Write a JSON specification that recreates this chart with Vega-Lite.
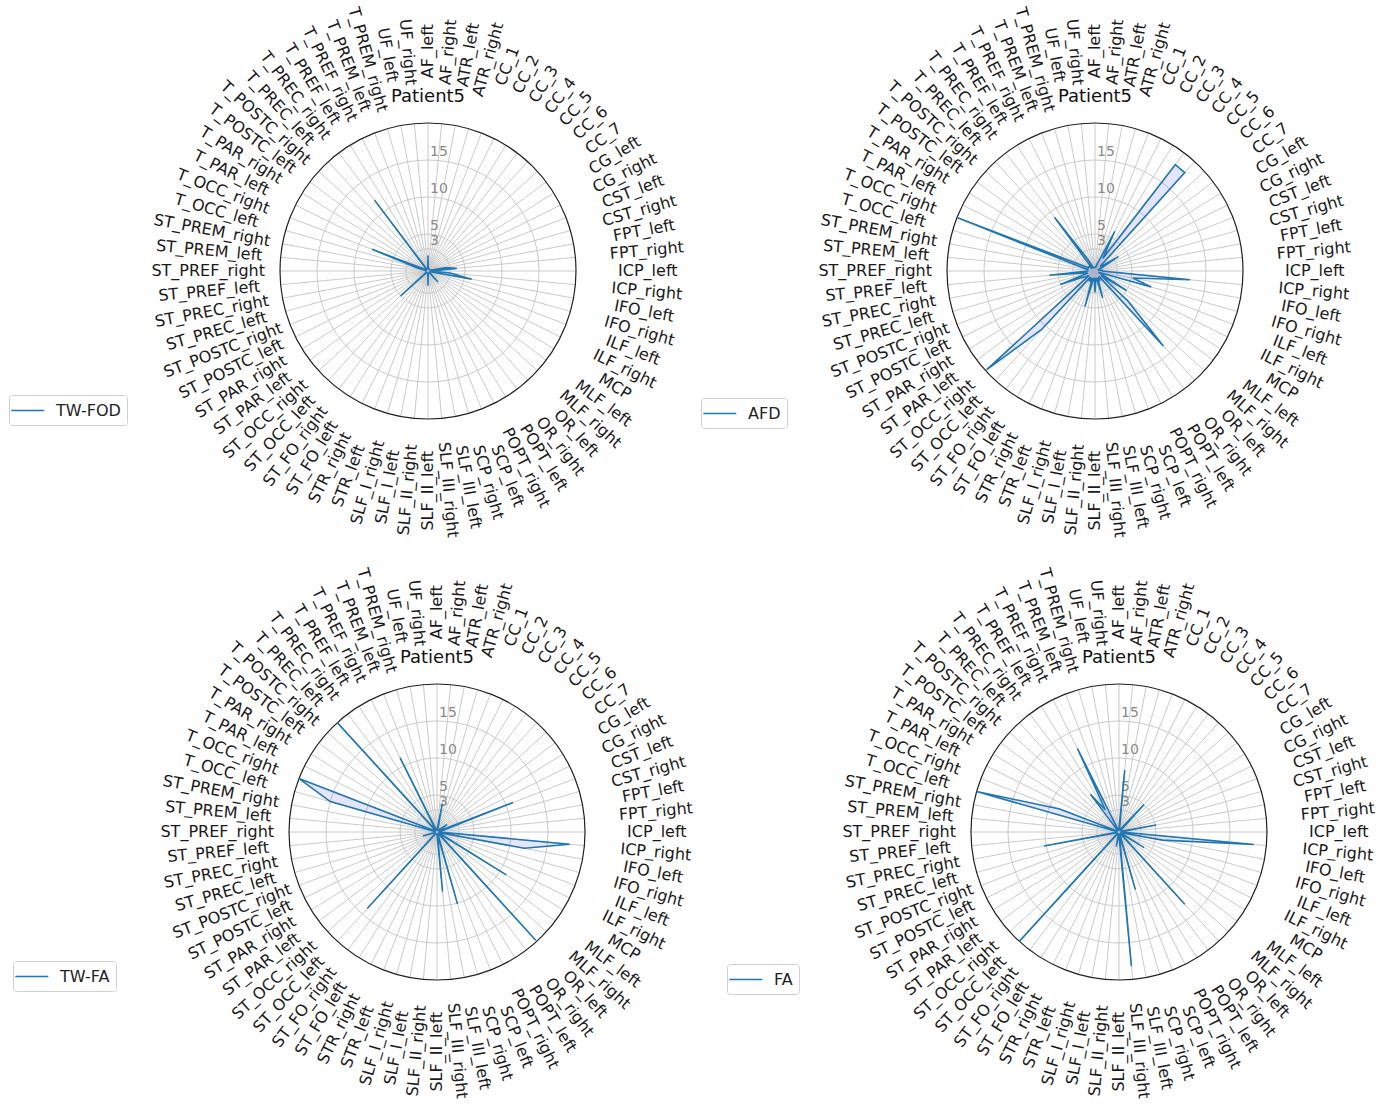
{
"$schema": "https://vega.github.io/schema/vega-lite/v6.json",
"background": "white",
"padding": {"left": 8, "top": 5, "right": 5, "bottom": 5},
"config": {"view": {"stroke": null}, "font": "DejaVu Sans"},
"datasets": {
"rings": [{"r": 3}, {"r": 5}, {"r": 10}, {"r": 15}, {"r": 20}],
"bundles": [
{"i":0,"name":"AF_left","tfod":2.1,"afd":0.5,"tfa":0.3,"fa":0.4},
{"i":1,"name":"AF_right","tfod":0.3,"afd":0.5,"tfa":0.5,"fa":8.4},
{"i":2,"name":"ATR_left","tfod":0.3,"afd":0.5,"tfa":3.9,"fa":0.3},
{"i":3,"name":"ATR_right","tfod":0.3,"afd":1.0,"tfa":0.3,"fa":0.3},
{"i":4,"name":"CC_1","tfod":0.3,"afd":1.5,"tfa":0.3,"fa":0.3},
{"i":5,"name":"CC_2","tfod":0.3,"afd":6.0,"tfa":0.3,"fa":0.3},
{"i":6,"name":"CC_3","tfod":0.3,"afd":2.0,"tfa":0.3,"fa":0.5},
{"i":7,"name":"CC_4","tfod":0.3,"afd":18.0,"tfa":0.3,"fa":1.0},
{"i":8,"name":"CC_5","tfod":0.3,"afd":18.0,"tfa":0.5,"fa":5.0},
{"i":9,"name":"CC_6","tfod":0.3,"afd":1.0,"tfa":0.5,"fa":0.3},
{"i":10,"name":"CC_7","tfod":0.3,"afd":1.0,"tfa":1.7,"fa":0.3},
{"i":11,"name":"CG_left","tfod":0.3,"afd":3.7,"tfa":0.3,"fa":0.3},
{"i":12,"name":"CG_right","tfod":0.3,"afd":1.0,"tfa":0.3,"fa":0.3},
{"i":13,"name":"CST_left","tfod":0.3,"afd":0.5,"tfa":11.0,"fa":0.3},
{"i":14,"name":"CST_right","tfod":0.3,"afd":0.5,"tfa":0.8,"fa":0.3},
{"i":15,"name":"FPT_left","tfod":2.5,"afd":0.5,"tfa":0.3,"fa":5.1},
{"i":16,"name":"FPT_right","tfod":3.9,"afd":1.0,"tfa":0.3,"fa":0.3},
{"i":17,"name":"ICP_left","tfod":0.5,"afd":1.0,"tfa":0.3,"fa":0.3},
{"i":18,"name":"ICP_right","tfod":3.0,"afd":12.9,"tfa":18.0,"fa":18.3},
{"i":19,"name":"IFO_left","tfod":6.0,"afd":5.2,"tfa":12.0,"fa":6.0},
{"i":20,"name":"IFO_right","tfod":0.5,"afd":7.9,"tfa":0.3,"fa":0.5},
{"i":21,"name":"ILF_left","tfod":0.3,"afd":0.5,"tfa":0.3,"fa":0.3},
{"i":22,"name":"ILF_right","tfod":0.3,"afd":1.0,"tfa":0.3,"fa":0.3},
{"i":23,"name":"MCP","tfod":0.3,"afd":5.0,"tfa":11.0,"fa":4.0},
{"i":24,"name":"MLF_left","tfod":0.3,"afd":1.0,"tfa":0.3,"fa":0.3},
{"i":25,"name":"MLF_right","tfod":0.3,"afd":6.0,"tfa":0.3,"fa":0.3},
{"i":26,"name":"OR_left","tfod":2.0,"afd":13.7,"tfa":19.8,"fa":13.2},
{"i":27,"name":"OR_right","tfod":0.3,"afd":1.0,"tfa":0.3,"fa":0.3},
{"i":28,"name":"POPT_left","tfod":0.3,"afd":1.0,"tfa":0.3,"fa":0.3},
{"i":29,"name":"POPT_right","tfod":0.3,"afd":1.5,"tfa":0.3,"fa":0.3},
{"i":30,"name":"SCP_left","tfod":0.3,"afd":1.0,"tfa":0.3,"fa":0.3},
{"i":31,"name":"SCP_right","tfod":0.3,"afd":3.8,"tfa":10.1,"fa":8.1},
{"i":32,"name":"SLF_III_left","tfod":0.3,"afd":1.0,"tfa":0.3,"fa":0.3},
{"i":33,"name":"SLF_III_right","tfod":0.3,"afd":1.0,"tfa":8.1,"fa":18.2},
{"i":34,"name":"SLF_II_left","tfod":2.0,"afd":2.9,"tfa":0.3,"fa":0.5},
{"i":35,"name":"SLF_II_right","tfod":0.3,"afd":1.0,"tfa":0.3,"fa":0.3},
{"i":36,"name":"SLF_I_left","tfod":0.3,"afd":1.0,"tfa":0.3,"fa":2.0},
{"i":37,"name":"SLF_I_right","tfod":0.3,"afd":5.0,"tfa":0.3,"fa":0.3},
{"i":38,"name":"STR_left","tfod":0.3,"afd":1.0,"tfa":0.3,"fa":0.3},
{"i":39,"name":"STR_right","tfod":0.3,"afd":1.5,"tfa":0.3,"fa":0.3},
{"i":40,"name":"ST_FO_left","tfod":0.3,"afd":1.5,"tfa":0.3,"fa":0.3},
{"i":41,"name":"ST_FO_right","tfod":0.3,"afd":1.0,"tfa":0.3,"fa":0.3},
{"i":42,"name":"ST_OCC_left","tfod":0.3,"afd":10.7,"tfa":14.0,"fa":20.0},
{"i":43,"name":"ST_OCC_right","tfod":5.0,"afd":19.8,"tfa":0.3,"fa":0.3},
{"i":44,"name":"ST_PAR_left","tfod":0.3,"afd":1.0,"tfa":0.3,"fa":0.3},
{"i":45,"name":"ST_PAR_right","tfod":0.3,"afd":1.5,"tfa":0.3,"fa":0.3},
{"i":46,"name":"ST_POSTC_left","tfod":0.3,"afd":2.0,"tfa":0.3,"fa":0.3},
{"i":47,"name":"ST_POSTC_right","tfod":0.3,"afd":5.0,"tfa":0.3,"fa":0.3},
{"i":48,"name":"ST_PREC_left","tfod":0.3,"afd":1.0,"tfa":2.0,"fa":0.3},
{"i":49,"name":"ST_PREC_right","tfod":0.3,"afd":1.5,"tfa":0.3,"fa":10.3},
{"i":50,"name":"ST_PREF_left","tfod":0.3,"afd":6.2,"tfa":0.3,"fa":0.3},
{"i":51,"name":"ST_PREF_right","tfod":0.3,"afd":1.0,"tfa":0.3,"fa":0.3},
{"i":52,"name":"ST_PREM_left","tfod":0.3,"afd":1.0,"tfa":0.3,"fa":0.3},
{"i":53,"name":"ST_PREM_right","tfod":0.3,"afd":1.0,"tfa":0.3,"fa":0.3},
{"i":54,"name":"T_OCC_left","tfod":1.5,"afd":2.0,"tfa":15.0,"fa":20.0},
{"i":55,"name":"T_OCC_right","tfod":8.1,"afd":20.0,"tfa":20.0,"fa":8.6},
{"i":56,"name":"T_PAR_left","tfod":0.5,"afd":1.0,"tfa":0.3,"fa":0.3},
{"i":57,"name":"T_PAR_right","tfod":0.3,"afd":1.0,"tfa":0.3,"fa":0.3},
{"i":58,"name":"T_POSTC_left","tfod":0.3,"afd":1.0,"tfa":0.3,"fa":0.3},
{"i":59,"name":"T_POSTC_right","tfod":0.3,"afd":0.5,"tfa":0.3,"fa":0.3},
{"i":60,"name":"T_PREC_left","tfod":0.3,"afd":1.0,"tfa":20.0,"fa":0.3},
{"i":61,"name":"T_PREC_right","tfod":12.0,"afd":9.1,"tfa":0.3,"fa":6.4},
{"i":62,"name":"T_PREF_left","tfod":0.3,"afd":2.0,"tfa":0.3,"fa":3.5},
{"i":63,"name":"T_PREF_right","tfod":0.3,"afd":0.5,"tfa":11.2,"fa":12.6},
{"i":64,"name":"T_PREM_left","tfod":0.3,"afd":0.5,"tfa":0.3,"fa":0.3},
{"i":65,"name":"T_PREM_right","tfod":0.3,"afd":0.5,"tfa":0.3,"fa":0.3},
{"i":66,"name":"UF_left","tfod":0.3,"afd":0.5,"tfa":0.3,"fa":0.3},
{"i":67,"name":"UF_right","tfod":0.3,"afd":0.5,"tfa":0.3,"fa":0.3}
]
},
"bounds": "flush",
"columns": 2,
"spacing": {"row": 265, "column": 379},
"resolve": {"scale": {"color": "independent"}, "legend": {"color": "independent"}},
"concat": [
{
"width": 296, "height": 296,
"title": {"text": "Patient5", "fontSize": 18, "font": "DejaVu Sans", "fontWeight": "normal", "color": "#111111", "offset": -101, "anchor": "middle", "dx": -4},
"layer": [
{"data": {"name": "bundles"}, "transform": [{"calculate": "datum.i*2*PI/68", "as": "t"}, {"calculate": "20*sin(datum.t)", "as": "gx"}, {"calculate": "20*cos(datum.t)", "as": "gy"}],
 "mark": {"type": "rule", "stroke": "#c4c4c4", "strokeWidth": 0.9},
 "encoding": {"x": {"field": "gx", "type": "quantitative", "scale": {"domain": [-19.46, 20.54], "nice": false, "zero": false}, "axis": null}, "y": {"field": "gy", "type": "quantitative", "scale": {"domain": [-20, 20], "nice": false, "zero": false}, "axis": null}, "x2": {"datum": 0}, "y2": {"datum": 0}}},
{"data": {"name": "rings"}, "transform": [{"filter": "datum.r < 20"}],
 "mark": {"type": "point", "shape": "circle", "filled": false, "stroke": "#c4c4c4", "strokeWidth": 0.9, "opacity": 1},
 "encoding": {"x": {"datum": 0, "type": "quantitative", "scale": {"domain": [-19.46, 20.54], "nice": false, "zero": false}, "axis": null}, "y": {"datum": 0, "type": "quantitative", "scale": {"domain": [-20, 20], "nice": false, "zero": false}, "axis": null}, "size": {"field": "r", "type": "quantitative", "legend": null, "scale": {"type": "pow", "exponent": 2, "domain": [0, 20], "range": [0, 87616], "zero": true}}}},
{"data": {"name": "rings"}, "transform": [{"filter": "datum.r == 20"}],
 "mark": {"type": "point", "shape": "circle", "filled": false, "stroke": "#222222", "strokeWidth": 1.2, "opacity": 1},
 "encoding": {"x": {"datum": 0, "type": "quantitative", "scale": {"domain": [-19.46, 20.54], "nice": false, "zero": false}, "axis": null}, "y": {"datum": 0, "type": "quantitative", "scale": {"domain": [-20, 20], "nice": false, "zero": false}, "axis": null}, "size": {"field": "r", "type": "quantitative", "legend": null, "scale": {"type": "pow", "exponent": 2, "domain": [0, 20], "range": [0, 87616], "zero": true}}}},
{"data": {"name": "rings"}, "transform": [{"filter": "datum.r < 20"}],
 "mark": {"type": "text", "align": "left", "baseline": "bottom", "dx": 2, "dy": -1, "fontSize": 14, "color": "#8a8a8a"},
 "encoding": {"x": {"datum": 0, "type": "quantitative", "scale": {"domain": [-19.46, 20.54], "nice": false, "zero": false}, "axis": null}, "y": {"field": "r", "type": "quantitative", "scale": {"domain": [-20, 20], "nice": false, "zero": false}, "axis": null}, "text": {"field": "r", "type": "quantitative"}}},
{"data": {"name": "bundles"}, "transform": [{"calculate": "datum.i*2*PI/68", "as": "t"}, {"calculate": "datum.tfod*sin(datum.t)", "as": "px"}, {"calculate": "datum.tfod*cos(datum.t)", "as": "py"}],
 "mark": {"type": "line", "interpolate": "linear-closed", "strokeWidth": 1.6, "fill": "#0000ff", "fillOpacity": 0.1},
 "encoding": {"x": {"field": "px", "type": "quantitative", "scale": {"domain": [-19.46, 20.54], "nice": false, "zero": false}, "axis": null}, "y": {"field": "py", "type": "quantitative", "scale": {"domain": [-20, 20], "nice": false, "zero": false}, "axis": null}, "order": {"field": "i", "type": "quantitative"},
  "color": {"datum": "TW-FOD", "type": "nominal", "scale": {"range": ["#1f77b4"]}, "legend": {"title": null, "orient": "none", "legendX": -275, "legendY": 272, "strokeColor": "#d0d0d0", "fillColor": "white", "padding": 6, "cornerRadius": 3, "symbolType": "M-1.6,0L2.4,0", "symbolSize": 272, "symbolStrokeWidth": 1.6, "labelFontSize": 16, "labelFont": "DejaVu Sans", "labelOffset": 22, "labelColor": "#222222"}}}},
{"data": {"name": "bundles"}, "transform": [{"calculate": "datum.i*2*PI/68", "as": "t"}, {"calculate": "29.7*sin(datum.t)", "as": "lx"}, {"calculate": "29.7*cos(datum.t)", "as": "ly"}, {"calculate": "datum.i < 34 ? datum.i*360/68-90 : datum.i*360/68+90", "as": "rot"}],
 "mark": {"type": "text", "align": "center", "baseline": "middle", "fontSize": 16, "color": "#1a1a1a"},
 "encoding": {"x": {"field": "lx", "type": "quantitative", "scale": {"domain": [-19.46, 20.54], "nice": false, "zero": false}, "axis": null}, "y": {"field": "ly", "type": "quantitative", "scale": {"domain": [-20, 20], "nice": false, "zero": false}, "axis": null}, "text": {"field": "name", "type": "nominal"}, "angle": {"field": "rot", "type": "quantitative", "scale": null}}}
]
},
{
"width": 296, "height": 296,
"title": {"text": "Patient5", "fontSize": 18, "font": "DejaVu Sans", "fontWeight": "normal", "color": "#111111", "offset": -101, "anchor": "middle", "dx": -12},
"layer": [
{"data": {"name": "bundles"}, "transform": [{"calculate": "datum.i*2*PI/68", "as": "t"}, {"calculate": "20*sin(datum.t)", "as": "gx"}, {"calculate": "20*cos(datum.t)", "as": "gy"}],
 "mark": {"type": "rule", "stroke": "#c4c4c4", "strokeWidth": 0.9},
 "encoding": {"x": {"field": "gx", "type": "quantitative", "scale": {"domain": [-18.38, 21.62], "nice": false, "zero": false}, "axis": null}, "y": {"field": "gy", "type": "quantitative", "scale": {"domain": [-20, 20], "nice": false, "zero": false}, "axis": null}, "x2": {"datum": 0}, "y2": {"datum": 0}}},
{"data": {"name": "rings"}, "transform": [{"filter": "datum.r < 20"}],
 "mark": {"type": "point", "shape": "circle", "filled": false, "stroke": "#c4c4c4", "strokeWidth": 0.9, "opacity": 1},
 "encoding": {"x": {"datum": 0, "type": "quantitative", "scale": {"domain": [-18.38, 21.62], "nice": false, "zero": false}, "axis": null}, "y": {"datum": 0, "type": "quantitative", "scale": {"domain": [-20, 20], "nice": false, "zero": false}, "axis": null}, "size": {"field": "r", "type": "quantitative", "legend": null, "scale": {"type": "pow", "exponent": 2, "domain": [0, 20], "range": [0, 87616], "zero": true}}}},
{"data": {"name": "rings"}, "transform": [{"filter": "datum.r == 20"}],
 "mark": {"type": "point", "shape": "circle", "filled": false, "stroke": "#222222", "strokeWidth": 1.2, "opacity": 1},
 "encoding": {"x": {"datum": 0, "type": "quantitative", "scale": {"domain": [-18.38, 21.62], "nice": false, "zero": false}, "axis": null}, "y": {"datum": 0, "type": "quantitative", "scale": {"domain": [-20, 20], "nice": false, "zero": false}, "axis": null}, "size": {"field": "r", "type": "quantitative", "legend": null, "scale": {"type": "pow", "exponent": 2, "domain": [0, 20], "range": [0, 87616], "zero": true}}}},
{"data": {"name": "rings"}, "transform": [{"filter": "datum.r < 20"}],
 "mark": {"type": "text", "align": "left", "baseline": "bottom", "dx": 2, "dy": -1, "fontSize": 14, "color": "#8a8a8a"},
 "encoding": {"x": {"datum": 0, "type": "quantitative", "scale": {"domain": [-18.38, 21.62], "nice": false, "zero": false}, "axis": null}, "y": {"field": "r", "type": "quantitative", "scale": {"domain": [-20, 20], "nice": false, "zero": false}, "axis": null}, "text": {"field": "r", "type": "quantitative"}}},
{"data": {"name": "bundles"}, "transform": [{"calculate": "datum.i*2*PI/68", "as": "t"}, {"calculate": "datum.afd*sin(datum.t)", "as": "px"}, {"calculate": "datum.afd*cos(datum.t)", "as": "py"}],
 "mark": {"type": "line", "interpolate": "linear-closed", "strokeWidth": 1.6, "fill": "#0000ff", "fillOpacity": 0.1},
 "encoding": {"x": {"field": "px", "type": "quantitative", "scale": {"domain": [-18.38, 21.62], "nice": false, "zero": false}, "axis": null}, "y": {"field": "py", "type": "quantitative", "scale": {"domain": [-20, 20], "nice": false, "zero": false}, "axis": null}, "order": {"field": "i", "type": "quantitative"},
  "color": {"datum": "AFD", "type": "nominal", "scale": {"range": ["#1f77b4"]}, "legend": {"title": null, "orient": "none", "legendX": -258, "legendY": 275, "strokeColor": "#d0d0d0", "fillColor": "white", "padding": 6, "cornerRadius": 3, "symbolType": "M-1.6,0L2.4,0", "symbolSize": 272, "symbolStrokeWidth": 1.6, "labelFontSize": 16, "labelFont": "DejaVu Sans", "labelOffset": 22, "labelColor": "#222222"}}}},
{"data": {"name": "bundles"}, "transform": [{"calculate": "datum.i*2*PI/68", "as": "t"}, {"calculate": "29.7*sin(datum.t)", "as": "lx"}, {"calculate": "29.7*cos(datum.t)", "as": "ly"}, {"calculate": "datum.i < 34 ? datum.i*360/68-90 : datum.i*360/68+90", "as": "rot"}],
 "mark": {"type": "text", "align": "center", "baseline": "middle", "fontSize": 16, "color": "#1a1a1a"},
 "encoding": {"x": {"field": "lx", "type": "quantitative", "scale": {"domain": [-18.38, 21.62], "nice": false, "zero": false}, "axis": null}, "y": {"field": "ly", "type": "quantitative", "scale": {"domain": [-20, 20], "nice": false, "zero": false}, "axis": null}, "text": {"field": "name", "type": "nominal"}, "angle": {"field": "rot", "type": "quantitative", "scale": null}}}
]
},
{
"width": 296, "height": 296,
"title": {"text": "Patient5", "fontSize": 18, "font": "DejaVu Sans", "fontWeight": "normal", "color": "#111111", "offset": -101, "anchor": "middle", "dx": 5},
"layer": [
{"data": {"name": "bundles"}, "transform": [{"calculate": "datum.i*2*PI/68", "as": "t"}, {"calculate": "20*sin(datum.t)", "as": "gx"}, {"calculate": "20*cos(datum.t)", "as": "gy"}],
 "mark": {"type": "rule", "stroke": "#c4c4c4", "strokeWidth": 0.9},
 "encoding": {"x": {"field": "gx", "type": "quantitative", "scale": {"domain": [-20.68, 19.32], "nice": false, "zero": false}, "axis": null}, "y": {"field": "gy", "type": "quantitative", "scale": {"domain": [-20, 20], "nice": false, "zero": false}, "axis": null}, "x2": {"datum": 0}, "y2": {"datum": 0}}},
{"data": {"name": "rings"}, "transform": [{"filter": "datum.r < 20"}],
 "mark": {"type": "point", "shape": "circle", "filled": false, "stroke": "#c4c4c4", "strokeWidth": 0.9, "opacity": 1},
 "encoding": {"x": {"datum": 0, "type": "quantitative", "scale": {"domain": [-20.68, 19.32], "nice": false, "zero": false}, "axis": null}, "y": {"datum": 0, "type": "quantitative", "scale": {"domain": [-20, 20], "nice": false, "zero": false}, "axis": null}, "size": {"field": "r", "type": "quantitative", "legend": null, "scale": {"type": "pow", "exponent": 2, "domain": [0, 20], "range": [0, 87616], "zero": true}}}},
{"data": {"name": "rings"}, "transform": [{"filter": "datum.r == 20"}],
 "mark": {"type": "point", "shape": "circle", "filled": false, "stroke": "#222222", "strokeWidth": 1.2, "opacity": 1},
 "encoding": {"x": {"datum": 0, "type": "quantitative", "scale": {"domain": [-20.68, 19.32], "nice": false, "zero": false}, "axis": null}, "y": {"datum": 0, "type": "quantitative", "scale": {"domain": [-20, 20], "nice": false, "zero": false}, "axis": null}, "size": {"field": "r", "type": "quantitative", "legend": null, "scale": {"type": "pow", "exponent": 2, "domain": [0, 20], "range": [0, 87616], "zero": true}}}},
{"data": {"name": "rings"}, "transform": [{"filter": "datum.r < 20"}],
 "mark": {"type": "text", "align": "left", "baseline": "bottom", "dx": 2, "dy": -1, "fontSize": 14, "color": "#8a8a8a"},
 "encoding": {"x": {"datum": 0, "type": "quantitative", "scale": {"domain": [-20.68, 19.32], "nice": false, "zero": false}, "axis": null}, "y": {"field": "r", "type": "quantitative", "scale": {"domain": [-20, 20], "nice": false, "zero": false}, "axis": null}, "text": {"field": "r", "type": "quantitative"}}},
{"data": {"name": "bundles"}, "transform": [{"calculate": "datum.i*2*PI/68", "as": "t"}, {"calculate": "datum.tfa*sin(datum.t)", "as": "px"}, {"calculate": "datum.tfa*cos(datum.t)", "as": "py"}],
 "mark": {"type": "line", "interpolate": "linear-closed", "strokeWidth": 1.6, "fill": "#0000ff", "fillOpacity": 0.1},
 "encoding": {"x": {"field": "px", "type": "quantitative", "scale": {"domain": [-20.68, 19.32], "nice": false, "zero": false}, "axis": null}, "y": {"field": "py", "type": "quantitative", "scale": {"domain": [-20, 20], "nice": false, "zero": false}, "axis": null}, "order": {"field": "i", "type": "quantitative"},
  "color": {"datum": "TW-FA", "type": "nominal", "scale": {"range": ["#1f77b4"]}, "legend": {"title": null, "orient": "none", "legendX": -271, "legendY": 277, "strokeColor": "#d0d0d0", "fillColor": "white", "padding": 6, "cornerRadius": 3, "symbolType": "M-1.6,0L2.4,0", "symbolSize": 272, "symbolStrokeWidth": 1.6, "labelFontSize": 16, "labelFont": "DejaVu Sans", "labelOffset": 22, "labelColor": "#222222"}}}},
{"data": {"name": "bundles"}, "transform": [{"calculate": "datum.i*2*PI/68", "as": "t"}, {"calculate": "29.7*sin(datum.t)", "as": "lx"}, {"calculate": "29.7*cos(datum.t)", "as": "ly"}, {"calculate": "datum.i < 34 ? datum.i*360/68-90 : datum.i*360/68+90", "as": "rot"}],
 "mark": {"type": "text", "align": "center", "baseline": "middle", "fontSize": 16, "color": "#1a1a1a"},
 "encoding": {"x": {"field": "lx", "type": "quantitative", "scale": {"domain": [-20.68, 19.32], "nice": false, "zero": false}, "axis": null}, "y": {"field": "ly", "type": "quantitative", "scale": {"domain": [-20, 20], "nice": false, "zero": false}, "axis": null}, "text": {"field": "name", "type": "nominal"}, "angle": {"field": "rot", "type": "quantitative", "scale": null}}}
]
},
{
"width": 296, "height": 296,
"title": {"text": "Patient5", "fontSize": 18, "font": "DejaVu Sans", "fontWeight": "normal", "color": "#111111", "offset": -101, "anchor": "middle", "dx": 12},
"layer": [
{"data": {"name": "bundles"}, "transform": [{"calculate": "datum.i*2*PI/68", "as": "t"}, {"calculate": "20*sin(datum.t)", "as": "gx"}, {"calculate": "20*cos(datum.t)", "as": "gy"}],
 "mark": {"type": "rule", "stroke": "#c4c4c4", "strokeWidth": 0.9},
 "encoding": {"x": {"field": "gx", "type": "quantitative", "scale": {"domain": [-21.62, 18.38], "nice": false, "zero": false}, "axis": null}, "y": {"field": "gy", "type": "quantitative", "scale": {"domain": [-20, 20], "nice": false, "zero": false}, "axis": null}, "x2": {"datum": 0}, "y2": {"datum": 0}}},
{"data": {"name": "rings"}, "transform": [{"filter": "datum.r < 20"}],
 "mark": {"type": "point", "shape": "circle", "filled": false, "stroke": "#c4c4c4", "strokeWidth": 0.9, "opacity": 1},
 "encoding": {"x": {"datum": 0, "type": "quantitative", "scale": {"domain": [-21.62, 18.38], "nice": false, "zero": false}, "axis": null}, "y": {"datum": 0, "type": "quantitative", "scale": {"domain": [-20, 20], "nice": false, "zero": false}, "axis": null}, "size": {"field": "r", "type": "quantitative", "legend": null, "scale": {"type": "pow", "exponent": 2, "domain": [0, 20], "range": [0, 87616], "zero": true}}}},
{"data": {"name": "rings"}, "transform": [{"filter": "datum.r == 20"}],
 "mark": {"type": "point", "shape": "circle", "filled": false, "stroke": "#222222", "strokeWidth": 1.2, "opacity": 1},
 "encoding": {"x": {"datum": 0, "type": "quantitative", "scale": {"domain": [-21.62, 18.38], "nice": false, "zero": false}, "axis": null}, "y": {"datum": 0, "type": "quantitative", "scale": {"domain": [-20, 20], "nice": false, "zero": false}, "axis": null}, "size": {"field": "r", "type": "quantitative", "legend": null, "scale": {"type": "pow", "exponent": 2, "domain": [0, 20], "range": [0, 87616], "zero": true}}}},
{"data": {"name": "rings"}, "transform": [{"filter": "datum.r < 20"}],
 "mark": {"type": "text", "align": "left", "baseline": "bottom", "dx": 2, "dy": -1, "fontSize": 14, "color": "#8a8a8a"},
 "encoding": {"x": {"datum": 0, "type": "quantitative", "scale": {"domain": [-21.62, 18.38], "nice": false, "zero": false}, "axis": null}, "y": {"field": "r", "type": "quantitative", "scale": {"domain": [-20, 20], "nice": false, "zero": false}, "axis": null}, "text": {"field": "r", "type": "quantitative"}}},
{"data": {"name": "bundles"}, "transform": [{"calculate": "datum.i*2*PI/68", "as": "t"}, {"calculate": "datum.fa*sin(datum.t)", "as": "px"}, {"calculate": "datum.fa*cos(datum.t)", "as": "py"}],
 "mark": {"type": "line", "interpolate": "linear-closed", "strokeWidth": 1.6, "fill": "#0000ff", "fillOpacity": 0.1},
 "encoding": {"x": {"field": "px", "type": "quantitative", "scale": {"domain": [-21.62, 18.38], "nice": false, "zero": false}, "axis": null}, "y": {"field": "py", "type": "quantitative", "scale": {"domain": [-20, 20], "nice": false, "zero": false}, "axis": null}, "order": {"field": "i", "type": "quantitative"},
  "color": {"datum": "FA", "type": "nominal", "scale": {"range": ["#1f77b4"]}, "legend": {"title": null, "orient": "none", "legendX": -232, "legendY": 280, "strokeColor": "#d0d0d0", "fillColor": "white", "padding": 6, "cornerRadius": 3, "symbolType": "M-1.6,0L2.4,0", "symbolSize": 272, "symbolStrokeWidth": 1.6, "labelFontSize": 16, "labelFont": "DejaVu Sans", "labelOffset": 22, "labelColor": "#222222"}}}},
{"data": {"name": "bundles"}, "transform": [{"calculate": "datum.i*2*PI/68", "as": "t"}, {"calculate": "29.7*sin(datum.t)", "as": "lx"}, {"calculate": "29.7*cos(datum.t)", "as": "ly"}, {"calculate": "datum.i < 34 ? datum.i*360/68-90 : datum.i*360/68+90", "as": "rot"}],
 "mark": {"type": "text", "align": "center", "baseline": "middle", "fontSize": 16, "color": "#1a1a1a"},
 "encoding": {"x": {"field": "lx", "type": "quantitative", "scale": {"domain": [-21.62, 18.38], "nice": false, "zero": false}, "axis": null}, "y": {"field": "ly", "type": "quantitative", "scale": {"domain": [-20, 20], "nice": false, "zero": false}, "axis": null}, "text": {"field": "name", "type": "nominal"}, "angle": {"field": "rot", "type": "quantitative", "scale": null}}}
]
}
]
}
